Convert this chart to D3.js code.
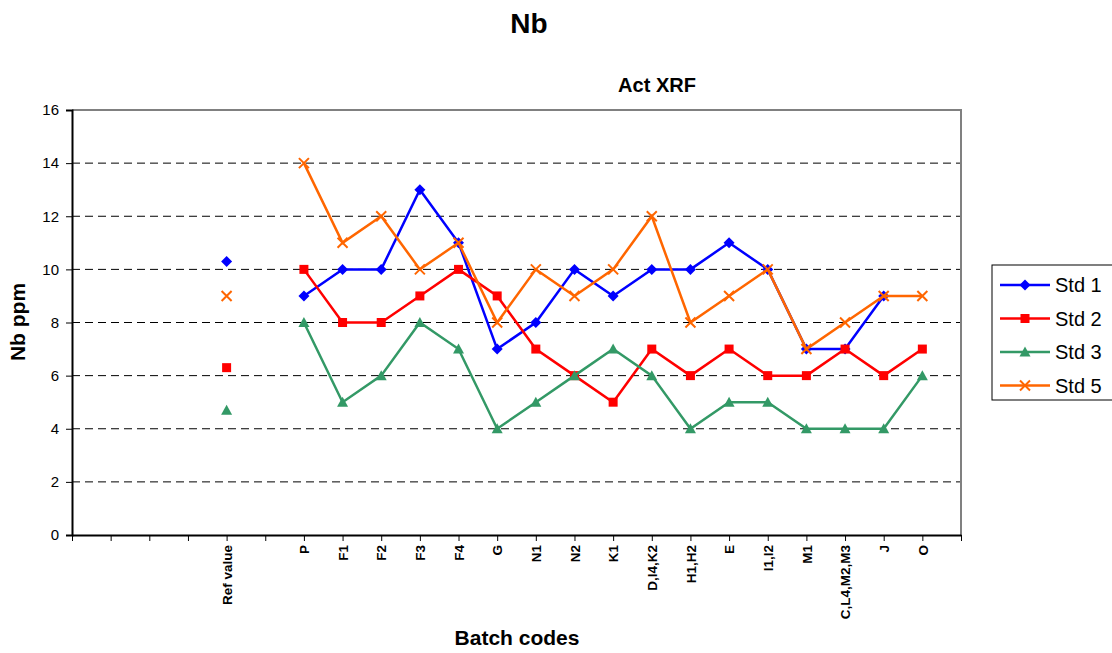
<!DOCTYPE html>
<html>
<head>
<meta charset="utf-8">
<script src="https://cdn.jsdelivr.net/npm/d3@7"></script>
<style>
  body { margin: 0; background: #fff; }
  svg { font-family: Arial, "Liberation Sans", sans-serif; }
</style>
</head>
<body>
<svg width="1112" height="653"></svg>
<script>
// categories (blank slots keep the Excel spacing)
var categories = ["", " ", "  ", "   ", "Ref value", "    ", "P", "F1", "F2", "F3", "F4", "G", "N1", "N2", "K1",
    "D,I4,K2", "H1,H2", "E", "I1,I2", "M1", "C,L4,M2,M3", "J", "O", "     "];

var batches = ["P", "F1", "F2", "F3", "F4", "G", "N1", "N2", "K1", "D,I4,K2", "H1,H2", "E", "I1,I2", "M1", "C,L4,M2,M3", "J", "O"];

var std1 = [9, 10, 10, 13, 11, 7, 8, 10, 9, 10, 10, 11, 10, 7, 7, 9, null];
var std2 = [10, 8, 8, 9, 10, 9, 7, 6, 5, 7, 6, 7, 6, 6, 7, 6, 7];
var std3 = [8, 5, 6, 8, 7, 4, 5, 6, 7, 6, 4, 5, 5, 4, 4, 4, 6];
var std5 = [14, 11, 12, 10, 11, 8, 10, 9, 10, 12, 8, 9, 10, 7, 8, 9, 9];

var refValues = [10.3, 6.3, 4.7, 9];

var seriesNames = ["Std 1", "Std 2", "Std 3", "Std 5"];
var yTicks = [0, 2, 4, 6, 8, 10, 12, 14, 16];

var colors = ["#0000ff", "#ff0000", "#339966", "#ff6600"];
var shapes = ["diamond", "square", "triangle", "cross"];

var svg = d3.select("svg");
var margin = { top: 110, left: 72, right: 961, bottom: 535 };

var x = d3.scalePoint().domain(categories).range([margin.left, margin.right]);
var y = d3.scaleLinear().domain([0, 16]).range([margin.bottom, margin.top]);

// titles
svg.append("text").attr("x", 529).attr("y", 33).attr("text-anchor", "middle")
    .style("font-size", "28px").style("font-weight", "bold").text("Nb");
svg.append("text").attr("x", 657).attr("y", 92).attr("text-anchor", "middle")
    .style("font-size", "20px").style("font-weight", "bold").text("Act XRF");
svg.append("text").attr("transform", "translate(25,322) rotate(-90)").attr("text-anchor", "middle")
    .style("font-size", "21px").style("font-weight", "bold").text("Nb ppm");
svg.append("text").attr("x", 517).attr("y", 645).attr("text-anchor", "middle")
    .style("font-size", "21px").style("font-weight", "bold").text("Batch codes");

// gridlines
svg.append("g").selectAll("line")
    .data(yTicks.filter(function (d) { return d > 0 && d < 16; }))
    .enter().append("line")
    .attr("x1", margin.left).attr("x2", margin.right)
    .attr("y1", function (d) { return y(d); }).attr("y2", function (d) { return y(d); })
    .attr("stroke", "#000").attr("stroke-width", 1).attr("stroke-dasharray", "8,5");

// plot frame (top and right grey)
svg.append("path")
    .attr("d", "M" + margin.left + "," + margin.top + "H" + margin.right + "V" + margin.bottom)
    .attr("fill", "none").attr("stroke", "#808080").attr("stroke-width", 2);

// y axis
var yAxis = svg.append("g").attr("transform", "translate(" + margin.left + ",0)")
    .call(d3.axisLeft(y).tickValues(yTicks).tickSize(6).tickPadding(7));
yAxis.select(".domain").attr("stroke", "#000").attr("stroke-width", 2);
yAxis.selectAll(".tick line").attr("stroke", "#000");
yAxis.selectAll("text").style("font-size", "15px").style("font-family", "Arial, 'Liberation Sans', sans-serif").attr("fill", "#000");

// x axis
var xAxis = svg.append("g").attr("transform", "translate(0," + margin.bottom + ")")
    .call(d3.axisBottom(x).tickSize(6).tickSizeOuter(0));
xAxis.select(".domain").attr("stroke", "#000").attr("stroke-width", 2);
xAxis.selectAll(".tick line").attr("stroke", "#000");
xAxis.selectAll("text")
    .attr("transform", "rotate(-90)")
    .attr("x", -10).attr("y", 0).attr("dy", "0.35em")
    .style("text-anchor", "end")
    .style("font-size", "13.5px").style("font-weight", "bold")
    .style("font-family", "Arial, 'Liberation Sans', sans-serif").attr("fill", "#000");

function marker(sel, shape, color) {
    if (shape === "diamond") {
        sel.append("path").attr("d", "M0,-5.5L5.5,0L0,5.5L-5.5,0Z").attr("fill", color);
    } else if (shape === "square") {
        sel.append("rect").attr("x", -4.5).attr("y", -4.5).attr("width", 9).attr("height", 9).attr("fill", color);
    } else if (shape === "triangle") {
        sel.append("path").attr("d", "M0,-5.5L5.5,4.5L-5.5,4.5Z").attr("fill", color);
    } else {
        sel.append("path").attr("d", "M-5,-5L5,5M-5,5L5,-5").attr("stroke", color).attr("stroke-width", 2).attr("fill", "none");
    }
}

var allSeries = [std1, std2, std3, std5];

var line = d3.line()
    .defined(function (d) { return d.v !== null; })
    .x(function (d) { return x(d.c); })
    .y(function (d) { return y(d.v); });

allSeries.forEach(function (vals, i) {
    var pts = vals.map(function (v, j) { return { c: batches[j], v: v }; });
    var g = svg.append("g");
    g.append("path").attr("d", line(pts))
        .attr("fill", "none").attr("stroke", colors[i]).attr("stroke-width", 2.5);
    pts.filter(function (d) { return d.v !== null; }).forEach(function (d) {
        marker(g.append("g").attr("transform", "translate(" + x(d.c) + "," + y(d.v) + ")"), shapes[i], colors[i]);
    });
    marker(g.append("g").attr("transform", "translate(" + x("Ref value") + "," + y(refValues[i]) + ")"), shapes[i], colors[i]);
});

// legend
var legend = svg.append("g");
legend.append("rect").attr("x", 992).attr("y", 265).attr("width", 125).attr("height", 135)
    .attr("fill", "#fff").attr("stroke", "#000").attr("stroke-width", 1);
seriesNames.forEach(function (name, i) {
    var ly = 285 + i * 33.5;
    legend.append("line").attr("x1", 1000).attr("x2", 1050).attr("y1", ly).attr("y2", ly)
        .attr("stroke", colors[i]).attr("stroke-width", 2.5);
    marker(legend.append("g").attr("transform", "translate(1025," + ly + ")"), shapes[i], colors[i]);
    legend.append("text").attr("x", 1055).attr("y", ly).attr("dy", "0.36em")
        .style("font-size", "20px").text(name);
});
</script>
</body>
</html>
